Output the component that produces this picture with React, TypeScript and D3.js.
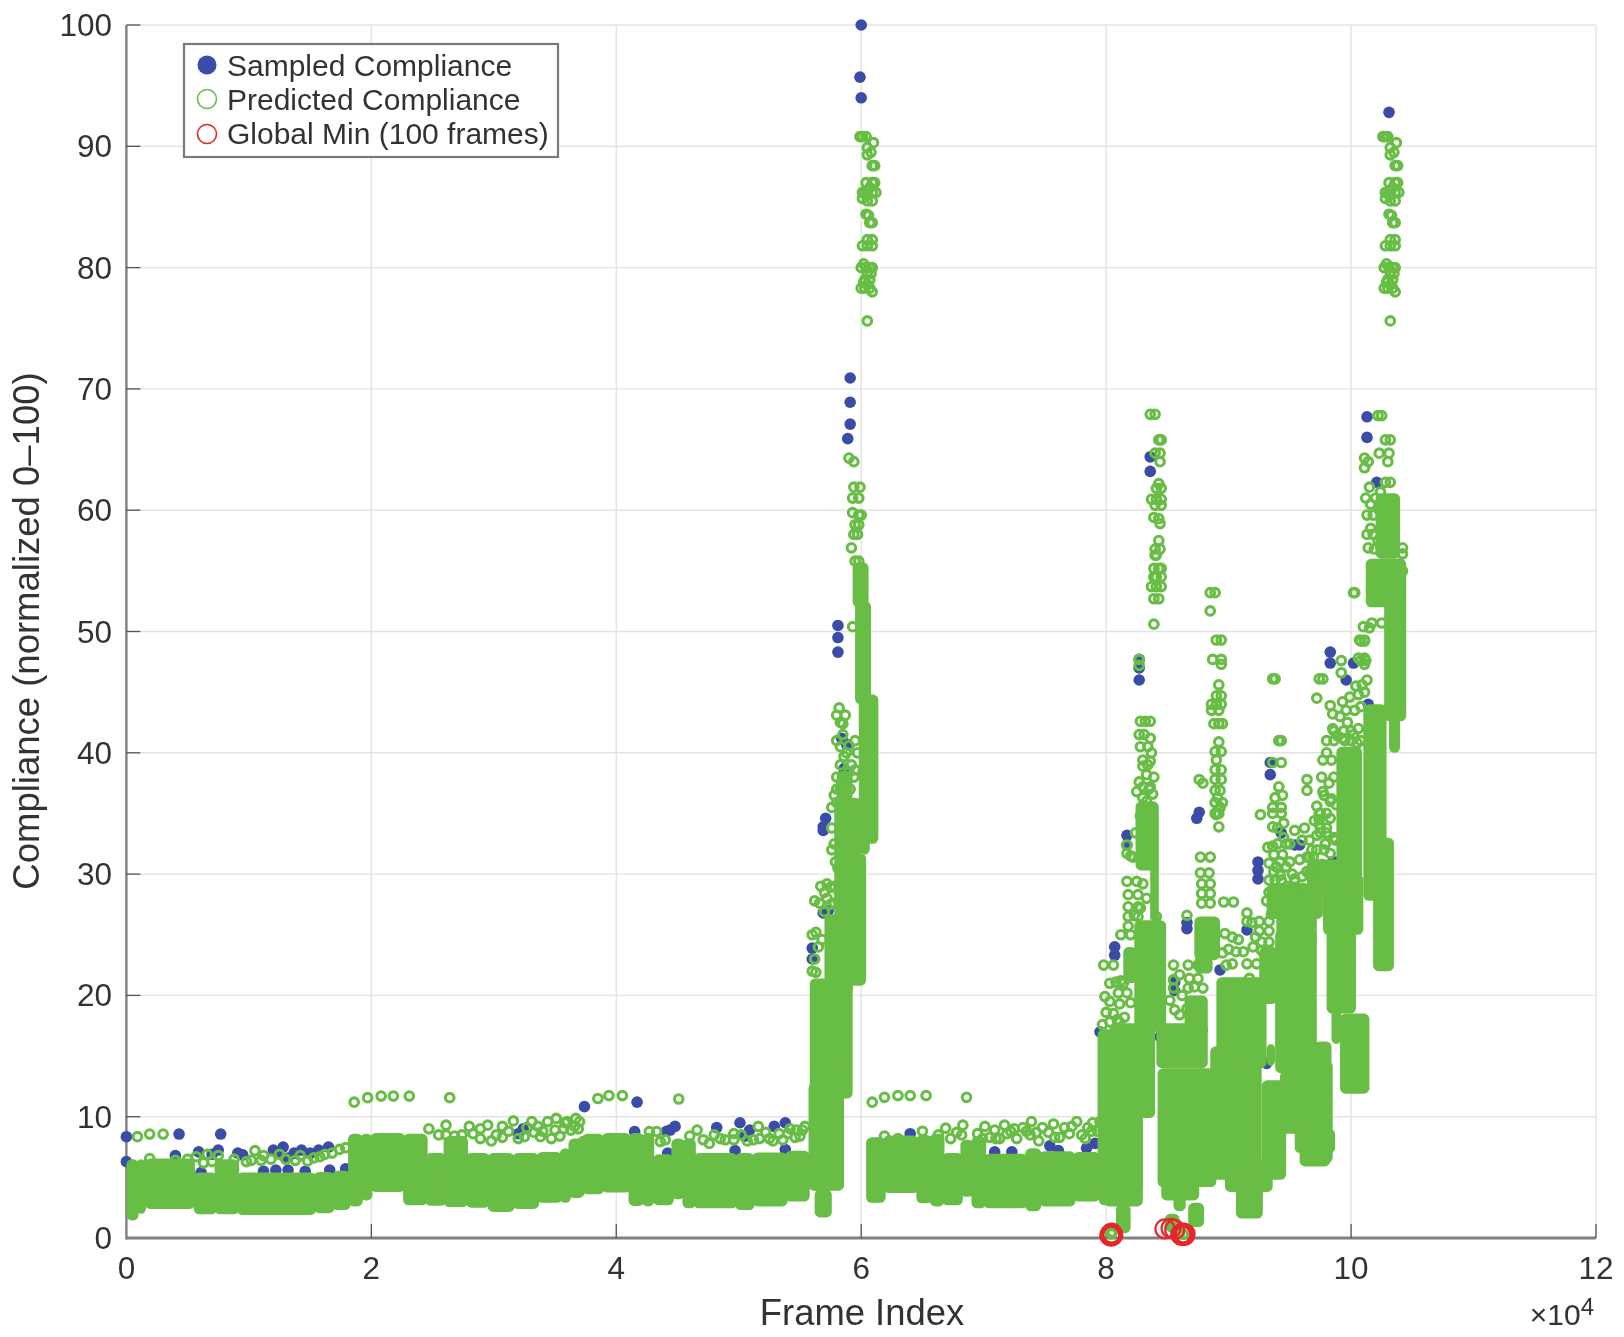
import React from "react";
import * as d3 from "d3";

// All frames are in units of 10^4 (as on the printed axis).
const xTicks = [0, 2, 4, 6, 8, 10, 12];
const yTicks = [0, 10, 20, 30, 40, 50, 60, 70, 80, 90, 100];

// Extent of the regions where predicted markers merge solid: [frameStart, frameEnd, low, high]
const denseLeft: number[][] = [
  [0,0.1,1.45,6.5],[0.08,0.16,2,6.5],[0.15,0.56,2.4,6.55],[0.55,0.74,1.95,5.4],[0.72,0.92,1.95,6.5],[0.9,1.55,1.9,5.4],
  [1.53,1.7,2.05,5.45],[1.68,1.83,2.3,5.55],[1.81,1.93,2.6,8.6],[1.91,2.01,3.1,8.6],[1.99,2.28,3.8,8.65],[2.26,2.46,2.7,8.6],
  [2.44,2.61,2.65,7],[2.59,2.79,2.55,8.4],[2.77,2.97,2.5,7],[2.95,3.17,2.15,7],[3.15,3.37,2.4,7],[3.35,3.56,2.9,7.1],
  [3.54,3.63,2.9,7.4],[3.61,3.74,3.3,8.2],[3.72,3.9,3.6,8.6],[3.88,4.12,3.75,8.65],[4.1,4.23,2.64,8.65],[4.21,4.31,2.6,8.65],
  [4.3,4.47,2.7,6.9],[4.45,4.56,3.2,8.2],[4.54,4.65,2.45,8.2],[4.63,4.99,2.45,7],[4.97,5.13,2.3,7],[5.11,5.4,2.6,7.05],[5.38,5.58,3,7.2],
];
const denseMiddle: number[][] = [
  [6.04,6.2,2.9,8.3],[6.18,6.47,3.7,8.45],[6.45,6.58,2.86,8.5],[6.56,6.68,2.6,8.6],[6.66,6.83,2.7,7],[6.81,6.92,3.4,8.1],
  [6.9,7.02,2.45,8.4],[7.0,7.36,2.45,6.95],[7.34,7.47,2.2,7.4],[7.45,7.75,2.6,7.15],[7.73,7.95,3,7.1],
];
const denseSpikeA: number[][] = [
  [5.62,5.76,1.7,4],[5.57,5.86,3.9,12.8],[5.58,5.75,3.9,21.4],[5.74,5.93,11.5,26],[5.7,5.86,14,26.7],[5.78,5.93,20,36.5],
  [5.8,5.93,36,38.5],[5.88,6.04,20.8,31.7],[5.82,6.0,30,36.3],[5.98,6.14,32.5,44.8],[5.99,6.07,31.6,45],[5.95,6.08,44,52.5],[5.93,6.06,52,55.7],
];
const denseEarlyRegion: number[][] = [
  [7.98,8.3,2.6,10],[7.93,8.3,3.8,17.2],[8.03,8.4,9.9,17.7],[7.94,8.03,2.7,16],[8.08,8.2,0.4,2.8],[8.23,8.49,17,26.2],[8.14,8.25,21,24],[8.24,8.43,30.3,36],[8.36,8.43,26,31],
  [8.42,8.9,4.2,14],[8.45,8.76,3.1,5],[8.55,8.65,2.2,3.5],[8.67,8.8,0.9,2.9],[8.48,8.6,0.5,2],[8.41,8.83,14,17.7],[8.64,8.83,16.6,20],[8.72,8.93,22.9,26.5],[8.72,8.87,21.8,23.2],
  [8.85,9.27,4.8,15.8],[9.27,9.47,4.8,13],[8.9,9.31,14,21.5],[8.97,9.36,3.8,6.5],[9.06,9.28,1.6,4.8],[9.25,9.4,19.3,24],[9.31,9.38,14.2,16],
];
const denseLateRegion: number[][] = [
  [9.42,9.72,8.6,13.8],[9.54,9.87,7,9],[9.58,9.83,5.9,7.5],[9.7,9.85,6.2,14.6],[9.38,9.72,13.6,25.4],[9.7,9.84,14,16.2],
  [9.31,9.77,26.3,29.2],[9.39,9.72,24,27],[9.64,10.07,28.5,31.2],
  [9.8,10.04,18.5,25.4],[9.77,10.1,25,30],[9.91,10.15,11.9,18.5],[9.84,9.92,16,19],[9.88,10.09,29.5,40.5],
  [10.18,10.35,22,33],[10.1,10.29,27.8,44],[10.27,10.45,42.6,56],[10.31,10.4,40,43],
  [10.12,10.44,52,56],[10.2,10.4,56,61.4],
];

// Isolated predicted markers: [frame, value]
const predictedLowRow: number[][] = [
  [0.09,8.35],[0.19,8.57],[0.3,8.57],[0.19,6.55],[0.4,6.4],[0.5,6.5],[0.57,6.7],[0.63,6.2],[0.66,6.9],[0.7,6.3],[0.75,6.8],[0.88,6.5],
  [0.98,6.3],[1.02,6.4],[1.05,7.2],[1.1,6.4],[1.12,6.8],[1.18,6.5],[1.25,6.9],[1.3,6.5],[1.38,6.4],[1.42,6.8],[1.48,6.35],[1.53,6.6],[1.58,6.7],[1.62,6.9],[1.68,7.0],[1.74,7.3],[1.79,7.45],
  [1.86,11.2],[1.97,11.57],[2.08,11.7],[2.18,11.7],[2.31,11.7],[2.64,11.57],[3.85,11.5],[3.94,11.74],[4.05,11.74],[4.51,11.46],
  [2.47,9],[2.55,8.5],[2.61,9.3],[2.61,8.5],[2.68,8.4],[2.8,9.2],[2.74,8.5],[2.83,8.6],[2.89,9],[2.95,9.3],[2.89,8.2],[3.02,8.5],[3.07,9.2],[3.16,9.65],[3.12,8.8],
  [2.98,8.0],[3.07,8.3],[3.2,8.2],[3.27,9.1],[3.36,9.2],[3.47,8.2],[3.54,8.4],
  [3.25,8.35],[3.31,9.6],[3.33,8.7],[3.4,8.8],[3.44,9.6],[3.38,8.35],[3.51,9.86],[3.5,8.9],[3.6,9.6],[3.57,9.0],[3.67,9.86],[3.7,9.6],[3.69,9],[3.63,8.9],[3.58,9.5],[3.66,9.2],[3.73,7.95],
  [4.27,8.77],[4.33,8.77],[4.36,7.95],[4.4,8.1],[4.66,8.9],[4.71,8.1],[4.76,7.8],[4.85,8.2],[4.89,8.1],[4.96,8.6],[4.96,8.1],[5.02,8.5],[5.12,8.1],[5.16,9.2],[5.17,8.2],[5.25,8.2],[5.33,8.6],[5.42,9],[5.4,8.6],[5.54,9.2],[5.52,8.9],[5.46,8.3],
  [4.6,8.4],[4.8,8.5],[5.07,8.0],[5.22,8.7],[5.28,8.0],[5.36,8.1],[5.47,8.9],[5.5,8.4],
];
const predictedMiddleRow: number[][] = [
  [6.09,11.2],[6.19,11.6],[6.3,11.74],[6.4,11.74],[6.53,11.74],[6.86,11.6],
  [6.19,8.4],[6.3,8.2],[6.5,8.8],[6.63,8.5],[6.69,9.05],[6.73,8.2],[6.78,8.7],[6.83,9.3],[6.82,8.5],[6.95,8.6],[7.01,9.2],[7.09,8.9],[7.05,8.3],[7.17,9.3],[7.13,8.2],
  [7.22,8.8],[7.27,8.2],[7.32,9.1],[7.38,8.5],[7.39,9.6],[7.45,8.0],[7.48,9.1],[7.53,8.7],[7.57,9.4],[7.62,8.3],[7.66,9.1],[7.7,8.6],[7.76,9.6],[7.8,8.5],[7.85,9.1],[7.89,9.5],[7.93,8.8],[7.95,9.6],
  [6.99,8.2],[7.1,8.2],[7.19,8.6],[7.25,9.0],[7.35,8.8],[7.43,8.7],[7.58,8.3],[7.72,9.2],[7.83,8.2],[7.88,8.8],
];
const predictedSpikeATop: number[][] = [
  [5.99,90.8],[6.01,90.8],[6.04,90.8],[6.05,89.9],[6.1,90.3],[6.08,89.5],[6.05,89.3],[6.09,88.4],[6.11,88.4],[6.04,87],[6.09,87],[6.11,87],[6.01,86.2],[6.05,86],[6.09,86.2],[6.12,86.2],[6.05,85.5],[6.09,85.5],
  [6.04,84.4],[6.06,84.3],[6.07,83.7],[6.09,83.7],[6.05,82.3],[6.09,82.3],[6.01,81.8],[6.05,81.8],[6.09,81.8],[6.0,80],[6.04,80],[6.07,80],[6.09,80],[6.03,79],[6.07,79],[6.0,78.3],[6.03,78.3],[6.07,78.3],[6.09,78],[6.05,75.6],
  [6.01,85.7],[6.03,86.1],[6.07,86.6],[6.02,80.3],[6.05,79.6],[6.02,78.8],[6.05,78.6],[6.08,79.5],
];
const predictedSpikeAMid: number[][] = [
  [5.9,64.3],[5.94,64],[5.94,61.9],[5.99,61.9],[5.93,61],[5.98,61],[5.93,59.8],[5.98,59.6],[6.0,59.6],[5.95,58.8],[5.98,58.8],[5.94,58],[5.97,58],[5.92,56.9],[5.95,55.8],[5.98,55.8],[5.93,50.4],
  [5.82,43.7],[5.8,43.1],[5.87,43.1],[5.83,42.5],[5.8,41],[5.9,40.6],[5.86,39.7],[5.9,38.4],[5.83,37.1],[5.8,35.9],[5.78,32.5],[5.76,32],[5.72,29.2],[5.78,29],[5.62,27.8],[5.7,28.5],[5.78,27.6],[5.63,25.2],
  [5.85,36],[5.87,38],[5.91,37],[5.94,38],[5.83,39],[5.8,38],[5.88,40],[5.83,40.5],[5.85,41.5],[5.92,39],[5.8,37],[5.78,36.5],[5.76,35.5],
  [5.72,28],[5.75,28.9],[5.75,27.5],[5.82,28.5],[5.84,27.6],[5.67,29],[5.66,27.6],[5.6,25],[5.65,24],[5.62,23],[5.6,22],
];
const predictedEightyColumn: number[][] = [
  [8.36,67.9],[8.4,67.9],[8.43,65.8],[8.45,65.8],[8.4,64.7],[8.44,64.7],[8.44,64],[8.43,62.2],[8.41,61.8],[8.45,61.8],[8.37,60.9],[8.41,60.9],[8.45,60.9],[8.4,60.4],[8.45,60.4],
  [8.39,59.4],[8.43,59.3],[8.44,58.9],[8.43,57.5],[8.4,56.8],[8.44,56.8],[8.4,56.3],[8.41,56.3],[8.39,55.2],[8.43,55.2],[8.45,55.2],[8.39,54.5],[8.41,54.5],[8.45,54.5],[8.37,53.7],[8.41,53.7],[8.45,53.7],[8.39,52.7],[8.43,52.7],[8.39,50.6],
  [8.27,47.7],[8.27,47.2],
  [8.17,32.4],[8.17,31.7],[8.17,29.4],[8.25,29.4],[8.18,28.3],[8.26,28.3],[8.18,27.3],[8.26,27.3],[8.18,26.5],[8.26,26.5],[8.18,25.7],[8.41,26.5],[8.2,31.5],[8.3,29.2],[8.33,28],
  [8.28,42.6],[8.32,42.6],[8.36,42.6],[8.27,41.5],[8.31,41.5],[8.36,41.2],[8.28,40.5],[8.34,40.5],[8.37,40],[8.3,39.4],[8.36,39.3],[8.3,38.9],[8.33,38.2],[8.27,37.6],[8.3,37.2],[8.36,37.2],[8.38,36.6],[8.3,36.3],[8.33,36],
  [7.98,22.5],[8.06,22.5],[8.08,21.1],[7.99,19.9],[8.1,20.2],[8.17,20.2],[8.0,18.6],[8.11,19.3],[8.15,18.2],[7.97,17.6],[8.06,18.5],[8.12,21.2],[8.2,19.4],[8.03,17.8],
];
const predictedNinetyColumn: number[][] = [
  [8.85,53.2],[8.89,53.2],[8.85,51.7],[8.9,49.3],[8.94,49.3],[8.87,47.7],[8.94,47.7],[8.94,47.3],[8.92,45.6],[8.9,44.7],[8.94,44.7],[8.86,44],[8.9,44],[8.94,44],[8.86,43.5],[8.92,43.5],
  [8.88,42.4],[8.92,42.4],[8.95,42.4],[8.92,40.9],[8.89,40.1],[8.94,40.1],[8.9,39.4],[8.89,38.6],[8.94,38.6],[8.76,37.8],[8.89,37.8],[8.94,37.8],[8.89,36.9],[8.93,36.9],[8.89,35.9],[8.93,35.5],[8.9,34.9],[8.92,33.9],[8.79,37.5],[8.91,36.3],[8.95,35.9],
  [8.66,26.6],[8.89,35],[8.92,35],[8.77,31.4],[8.85,31.4],[8.77,30.1],[8.84,30.1],[8.78,29.2],[8.85,29.2],[8.78,28.4],[8.85,28.4],[8.78,27.6],[8.85,27.6],[8.96,27.7],[9.04,27.7],[8.97,25.1],
  [9.15,26.8],[9.15,26.1],[9.25,26.1],[9.33,26.1],[9.25,25.3],[9.33,25.3],[9.27,24.4],[9.33,24.4],[9.27,23.7],[9.33,23.7],[9.22,24.8],
  [8.55,22.5],[8.67,22.5],[8.75,22.5],[8.68,21.4],[8.75,21.4],[8.55,20.6],[8.67,20.6],[8.79,20.6],[8.56,18.8],[8.7,19.3],[8.77,19.3],[9.15,22.6],[9.23,22.6],[9.17,21.4],[9.12,23.6],[8.95,23.5],[9.0,23.8],[9.06,23.6],[8.6,21.7],[8.52,19.6],[8.6,18.4],
  [9.36,46.1],[9.38,46.1],[9.41,41],[9.43,41],[9.36,39.2],[9.43,39.2],[9.41,37.2],[9.38,36.3],[9.44,36.5],
  [9.26,34.9],[9.36,35.5],[9.36,35],[9.43,35.5],[9.43,35],[9.36,33.9],[9.45,34.2],[9.4,32.5],[9.47,32.5],[9.37,31.6],[9.44,31.6],[9.39,30.6],[9.47,30.6],[9.4,33.8],[9.42,31],[9.45,33],
  [9.38,29.5],[9.43,29.5],[9.48,29],[9.33,28.5],[9.38,28.3],[9.44,28],[9.52,28.8],[9.31,27.8],[9.36,27.2],[9.41,27],[9.48,27.5],[9.6,27.2],[9.66,28],[9.56,26.5],[9.35,26.7],[9.44,26.5],
  [9.6,29.8],[9.66,30],[9.7,29.5],[9.75,29.6],
];
const predictedHundredColumn: number[][] = [
  [9.74,46.1],[9.77,46.1],[9.72,44.5],[9.92,47.6],[9.92,46.6],[10.07,49.3],[10.11,49.3],[10.08,47.6],[10.12,47.6],[10.02,53.2],[10.03,53.2],[10.1,50.4],[10.17,50.7],
  [9.83,43.9],[9.85,43.2],[9.86,41.8],[9.8,41],[9.86,41],[9.77,39.4],[9.84,39.4],[9.64,37.8],[9.64,36.9],[9.91,43],[9.97,42.5],[10.03,43.5],[10.06,42],[9.8,40],[9.76,38],[9.82,37.5],[9.78,36.5],[9.84,36.2],
  [9.93,41.2],[10.0,41],[10.05,40.8],[9.96,43.5],
  [9.64,31.4],[9.69,31.4],[9.87,32.8],[9.95,31.7],[9.79,32.5],[9.64,30.2],[9.75,35],[9.8,35],[9.75,33.8],[9.8,33.8],[9.75,33.4],[9.8,33.4],[9.88,35.7],[9.72,33.2],[9.78,32],[9.7,30.5],[9.86,33],[9.83,31.7],
  [9.74,34.5],[9.83,34.6],[9.83,36],[9.86,38],[9.86,30.6],[9.82,30],
  [10.22,67.8],[10.25,67.8],[10.28,65.8],[10.32,65.8],[10.23,64.7],[10.31,64.7],[10.3,64],[10.11,64.3],[10.14,64],[10.11,63.5],[10.32,62.3],[10.28,62.3],[10.15,61.9],[10.12,61],
  [10.13,59.6],[10.18,59.6],[10.13,58],[10.18,58],[10.14,56.9],[10.42,56.9],[10.42,56.4],[10.15,50.3],[10.25,50.7],[10.08,49.2],[10.11,49.2],[10.11,47.8],[10.11,47.3],[10.06,47.8],
  [10.09,45.6],[10.06,44.8],[9.85,42],[9.94,41.8],[10.0,41.8],[9.74,35],[9.74,34.1],[9.79,32.5],[9.87,32.9],[9.96,31.7],[9.66,31.4],[9.64,30.2],[9.54,29.4],[9.61,28.8],[9.94,29.7],
  [10.2,61],[10.23,60],[10.25,58.5],[10.22,57.5],[10.16,60.5],[10.19,56.8],[10.24,61.5],[10.11,45],[10.13,46],
  [10.42,55],[10.24,57],[10.16,58.5],
];
const predictedSpikeBTop: number[][] = [
  [10.26,90.8],[10.28,90.8],[10.3,90.8],[10.32,89.9],[10.37,90.3],[10.35,89.5],[10.32,89.3],[10.36,88.4],[10.38,88.4],[10.31,87],[10.36,87],[10.38,87],[10.28,86.2],[10.32,86],[10.36,86.2],[10.39,86.2],[10.32,85.5],[10.36,85.5],
  [10.31,84.4],[10.33,84.3],[10.34,83.7],[10.36,83.7],[10.32,82.3],[10.36,82.3],[10.28,81.8],[10.32,81.8],[10.36,81.8],[10.27,80],[10.31,80],[10.34,80],[10.36,80],[10.3,79],[10.34,79],[10.27,78.3],[10.3,78.3],[10.34,78.3],[10.36,78],[10.32,75.6],
  [10.28,85.7],[10.3,86.1],[10.34,86.6],[10.29,80.3],[10.32,79.6],[10.29,78.8],[10.32,78.6],[10.35,79.5],
];
const predictedCrowded: number[][] = [
  [9.32,32.2],[9.36,32.3],[9.33,30.9],[9.37,30.2],[9.33,29.5],[9.42,29.9],[9.5,31],[9.52,30],[9.5,32.5],[9.54,33.6],[9.58,31.2],[9.6,32.8],[9.62,33.8],[9.66,32.8],[9.7,34.4],[9.68,32],
  [9.54,29.6],[9.58,28.6],[9.72,35.6],[9.77,36.8],[9.72,32],[9.76,30.8],[9.89,41.4],[9.95,41],[10.02,41.5],[10.08,43.8],[10.08,41],[9.99,44.6],[9.93,44.2],[10.04,45.5],
  [8.03,19.5],[8.09,18],[8.03,21],[8.14,21],[8.11,17.8],[8.23,26.6],[8.28,27.2],[8.12,25],[8.2,25],
  [8.55,21.3],[8.62,20],[8.72,20.7],[8.66,18.9],[8.98,22.5],[9.03,22.6],[9.08,24.6],[9.03,24.8],[9.2,24],[9.19,26],
  [5.68,24.6],[5.63,21.9],[5.7,26.9],[5.81,30.5],[5.79,31],[5.85,42.4],[5.84,37.6],[5.88,37.2],[5.76,33.8],[5.95,41],[5.97,40],[5.95,38.6],
  [8.31,35.5],[8.35,37],[8.39,38],[8.34,39],[8.25,36.8],[8.28,34.8],[8.24,33.4],[8.22,31.4],
];
const predictedFloor: number[][] = [[8.04,0.35],[8.05,0.5],[8.54,0.9],[8.58,0.7],[8.6,0.4],[8.63,0.3]];

// Sampled markers: [frame, value]
const sampledUpper: number[][] = [
  [6.0,100],[5.99,95.7],[6.0,94],[5.91,70.9],[5.91,68.9],[5.91,67.1],[5.89,65.9],[5.81,50.5],[5.81,49.5],[5.81,48.3],[5.84,41.2],[5.88,40.7],[5.86,38.7],
  [5.71,34.6],[5.69,33.9],[5.69,33.6],[5.69,26.8],[5.73,27],[5.6,23.9],[5.6,23],[10.31,92.8],[10.13,67.7],[10.13,66],[10.21,62.3],[9.83,48.3],[9.83,47.4],[10.02,47.4],[9.96,46],[10.22,41.3],[10.14,44],
  [8.36,64.4],[8.36,63.2],[8.27,47.7],[8.27,47],[8.27,46],[8.17,33.2],[8.17,32.4],[9.34,39.2],[9.34,38.2],[8.76,35.1],[8.74,34.6],[9.24,31],[9.24,30.3],[9.24,29.6],[9.43,33.4],[9.54,32.4],[9.58,32.4],[9.85,31],[10.03,29.4],[9.87,31],
  [8.07,24],[8.07,23.3],[8.66,26],[8.66,25.5],[9.15,25.4],[8.56,21.1],[8.56,20.4],[8.93,22.1],[9.31,14.4],[8.44,16.6],[7.95,17],
];
const sampledLower: number[][] = [
  [0,8.35],[0.43,8.57],[0.77,8.57],[0,6.3],[0.4,6.8],[0.59,7.1],[0.7,6.9],[0.75,7.25],[0.91,7],[0.95,6.85],[1.2,7.25],[1.28,7.5],[1.32,6.6],[1.24,7],[1.37,7],[1.43,7.25],[1.5,7],[1.57,7.25],[1.65,7.5],
  [0.61,5.4],[1.12,5.5],[1.22,5.6],[1.32,5.6],[1.46,5.5],[1.66,5.6],[1.79,5.7],[3.2,8.6],[3.24,9],[3.74,10.83],[4.17,11.2],[4.15,8.77],[4.48,9.2],[4.44,8.9],[4.41,8.8],[4.82,9.1],[5.01,9.5],[5.09,8.9],[5.29,9.2],[5.38,9.5],[5.38,7.3],[4.97,7.2],[4.42,7],[5.05,8.4],
  [7.09,7.1],[7.23,7.1],[7.54,7.6],[7.61,7.2],[7.84,7.4],[7.91,7.8],[6.4,8.6],
];

// Global-minimum markers: [frame, value]
const globalMin: number[][] = [
  [8.03,0.2],[8.035,0.3],[8.04,0.15],[8.04,0.3],[8.045,0.4],[8.05,0.2],[8.05,0.35],[8.055,0.25],
  [8.48,0.75],[8.53,0.8],[8.56,0.7],
  [8.61,0.3],[8.615,0.2],[8.62,0.35],[8.625,0.25],[8.63,0.4],[8.635,0.3],[8.64,0.2],[8.645,0.35],
];

const legendItems = ["Sampled Compliance", "Predicted Compliance", "Global Min (100 frames)"];

const BLUE = "#3a4ca8";
const GREEN = "#67bd45";
const RED = "#e8262c";
const FONT = "'Liberation Sans', Arial, sans-serif";
const TEXT = "#333";

export default function App() {
  const x = d3.scaleLinear().domain([0, 12]).range([126.4, 1596]);
  const y = d3.scaleLinear().domain([0, 100]).range([1238, 25]);
  const denseBlocks = [...denseLeft, ...denseMiddle, ...denseSpikeA, ...denseEarlyRegion, ...denseLateRegion];
  const rings = [
    ...predictedLowRow, ...predictedMiddleRow, ...predictedSpikeATop, ...predictedSpikeAMid,
    ...predictedEightyColumn, ...predictedNinetyColumn, ...predictedHundredColumn, ...predictedSpikeBTop, ...predictedCrowded, ...predictedFloor,
  ];
  const sampled = [...sampledUpper, ...sampledLower];
  return (
    <svg width={1624} height={1337} viewBox="0 0 1624 1337" style={{ position: "absolute", left: 0, top: 0, background: "#fff" }} fontFamily={FONT}>
      <defs>
        <filter id="soft" x="0" y="0" width="1624" height="1337" filterUnits="userSpaceOnUse">
          <feGaussianBlur stdDeviation="0.55" />
        </filter>
      </defs>
      <g filter="url(#soft)">
        <rect width={1624} height={1337} fill="#fff" />
        <g stroke="#e3e3e3" strokeWidth={1.4}>
          {xTicks.slice(1).map((t) => <line key={t} x1={x(t)} x2={x(t)} y1={y(0)} y2={y(100)} />)}
          {yTicks.slice(1).map((t) => <line key={t} x1={x(0)} x2={x(12)} y1={y(t)} y2={y(t)} />)}
        </g>
        <line x1={x(0)} x2={x(0)} y1={y(0) + 1.5} y2={y(100)} stroke="#808080" strokeWidth={2.4} />
        <line x1={x(0)} x2={x(12)} y1={y(0)} y2={y(0)} stroke="#808080" strokeWidth={3} />
        <g stroke="#555" strokeWidth={1.3}>
          {xTicks.slice(1).map((t) => <line key={t} x1={x(t)} x2={x(t)} y1={y(0)} y2={y(0) - 14} />)}
          {yTicks.slice(1).map((t) => <line key={t} x1={x(0)} x2={x(0) + 14} y1={y(t)} y2={y(t)} />)}
        </g>
        <g>
          {sampled.map(([f, v], i) => <circle key={i} cx={x(f)} cy={y(v)} r={5.8} fill={BLUE} />)}
        </g>
        <g fill={GREEN}>
          {denseBlocks.map(([a, b, lo, hi], i) => (
            <rect key={i} x={x(a)} width={x(b) - x(a)} y={y(hi)} height={y(lo) - y(hi)} rx={5.5} ry={5.5} />
          ))}
        </g>
        <g fill="none" stroke={GREEN} strokeWidth={3.1}>
          {rings.map(([f, v], i) => <circle key={i} cx={x(f)} cy={y(v)} r={4.3} />)}
        </g>
        <g fill="none" stroke={RED} strokeWidth={2.2}>
          {globalMin.map(([f, v], i) => <circle key={i} cx={x(f)} cy={y(v)} r={9.5} />)}
        </g>
        <g fill={TEXT} fontSize={31.5} textAnchor="middle">
          {xTicks.map((t) => <text key={t} x={x(t)} y={1279}>{t}</text>)}
        </g>
        <g fill={TEXT} fontSize={31.5} textAnchor="end">
          {yTicks.map((t) => <text key={t} x={112} y={y(t) + 11}>{t}</text>)}
        </g>
        <text x={862} y={1325} fontSize={36.4} fill={TEXT} textAnchor="middle">Frame Index</text>
        <text transform={`translate(38.5,631) rotate(-90)`} fontSize={36.5} fill={TEXT} textAnchor="middle">Compliance (normalized 0–100)</text>
        <text x={1594} y={1325} fontSize={30} fill={TEXT} textAnchor="end">×10<tspan dy={-10} fontSize={24}>4</tspan></text>
        <rect x={184} y={44} width={374} height={113} fill="#fff" stroke="#7a7a7a" strokeWidth={2.2} />
        <circle cx={207} cy={65} r={9.5} fill={BLUE} />
        <circle cx={207} cy={99} r={9.5} fill="none" stroke={GREEN} strokeWidth={1.6} />
        <circle cx={207} cy={134} r={9.5} fill="none" stroke={RED} strokeWidth={1.6} />
        <g fontSize={30} fill={TEXT}>
          {legendItems.map((t, i) => <text key={t} x={227} y={75.5 + i * 34.3}>{t}</text>)}
        </g>
      </g>
    </svg>
  );
}
